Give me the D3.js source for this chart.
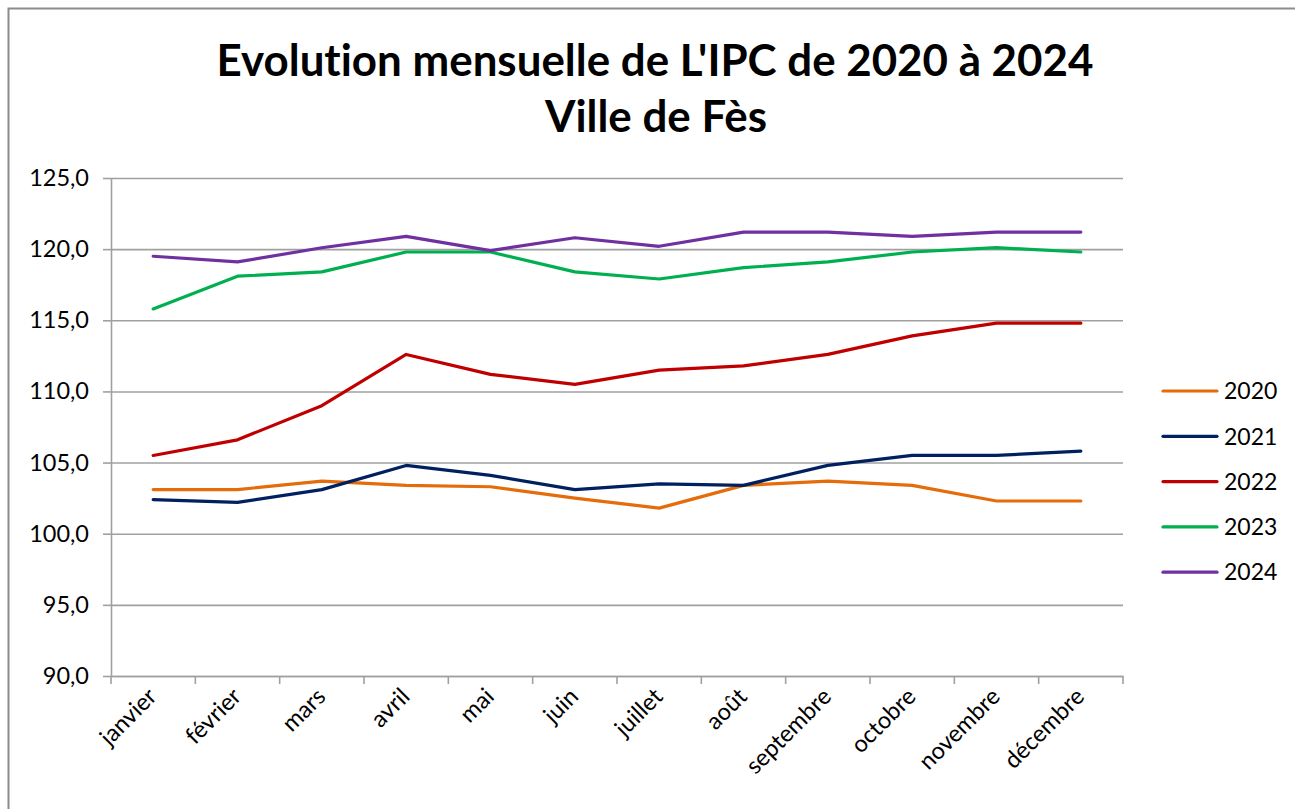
<!DOCTYPE html>
<html>
<head>
<meta charset="utf-8">
<script src="https://cdn.jsdelivr.net/npm/d3@7"></script>
<style>
  html, body { margin: 0; padding: 0; background: #ffffff; overflow: hidden; }
  svg { display: block; font-variant-ligatures: none; }
  text { font-variant-ligatures: none; }
</style>
</head>
<body>
<svg id="chart" width="1295" height="809"></svg>
<script>
const titleLines = ["Evolution mensuelle de L'IPC de 2020 à 2024", "Ville de Fès"];
const months = ["janvier","février","mars","avril","mai","juin","juillet","août","septembre","octobre","novembre","décembre"];
const seriesNames = ["2020","2021","2022","2023","2024"];
const v2020 = [103.1,103.1,103.7,103.4,103.3,102.5,101.8,103.4,103.7,103.4,102.3,102.3];
const v2021 = [102.4,102.2,103.1,104.8,104.1,103.1,103.5,103.4,104.8,105.5,105.5,105.8];
const v2022 = [105.5,106.6,109.0,112.6,111.2,110.5,111.5,111.8,112.6,113.9,114.8,114.8];
const v2023 = [115.8,118.1,118.4,119.8,119.8,118.4,117.9,118.7,119.1,119.8,120.1,119.8];
const v2024 = [119.5,119.1,120.1,120.9,119.9,120.8,120.2,121.2,121.2,120.9,121.2,121.2];
const yTicks = [90,95,100,105,110,115,120,125];
const seriesColors = ["#E46C0A","#002060","#C00000","#00B050","#7030A0"];

(function () {
const seriesValues = [v2020, v2021, v2022, v2023, v2024];
const series = seriesNames.map((n, i) => ({ name: n, color: seriesColors[i], values: seriesValues[i] }));

const svg = d3.select("#chart");
const FONT = "Lato, 'Open Sans', sans-serif";
const pLeft = 111, pRight = 1123, pTop = 178, pBottom = 676;

// chart border
svg.append("rect").attr("x", 8.5).attr("y", 8.5).attr("width", 1400).attr("height", 900)
  .attr("fill", "#fff").attr("stroke", "#8c8c8c").attr("stroke-width", 2);

// title
const title = svg.append("text").attr("text-anchor", "middle")
  .attr("font-family", FONT).attr("font-weight", "bold").attr("fill", "#000");
title.append("tspan").attr("x", 655).attr("y", 76).text(titleLines[0]);
title.append("tspan").attr("x", 656).attr("y", 132).text(titleLines[1]);
title.attr("font-size", 40);
const w0 = title.select("tspan").node().getComputedTextLength();
title.attr("font-size", (40 * 877 / w0).toFixed(2));

const x = d3.scaleBand().domain(months).range([pLeft, pRight]).padding(0);
const y = d3.scaleLinear().domain([90, 125]).range([pBottom, pTop]);
const fmt = d => d.toFixed(1).replace(".", ",");

// gridlines
svg.append("g").attr("transform", `translate(${pLeft},0)`)
  .call(d3.axisLeft(y).tickValues(yTicks).tickSize(-(pRight - pLeft)).tickFormat(""))
  .call(g => g.select(".domain").remove())
  .call(g => g.selectAll("line").attr("stroke", "#a0a0a0").attr("stroke-width", 1.6));

// y axis
svg.append("g").attr("transform", `translate(${pLeft},0)`)
  .call(d3.axisLeft(y).tickValues(yTicks).tickSizeInner(8).tickSizeOuter(0).tickPadding(14).tickFormat(fmt))
  .call(g => g.select(".domain").attr("stroke", "#a0a0a0").attr("stroke-width", 1.6))
  .call(g => g.selectAll("line").attr("stroke", "#a0a0a0").attr("stroke-width", 1.6))
  .call(g => g.selectAll("text").attr("font-family", FONT).attr("font-size", 23.5).attr("fill", "#000"));

// x axis
const xAxis = svg.append("g").attr("transform", `translate(0,${pBottom})`)
  .call(d3.axisBottom(x).tickSize(0).tickSizeOuter(0).tickFormat(""))
  .call(g => g.select(".domain").attr("stroke", "#a0a0a0").attr("stroke-width", 1.6));
const bounds = months.map(m => x(m)).concat([x(months[months.length - 1]) + x.bandwidth()]);
xAxis.selectAll("line.bt").data(bounds).join("line").attr("class", "bt")
  .attr("x1", d => d).attr("x2", d => d).attr("y1", 0).attr("y2", 8)
  .attr("stroke", "#a0a0a0").attr("stroke-width", 1.6);
xAxis.selectAll("text.ml").data(months).join("text").attr("class", "ml")
  .attr("text-anchor", "end")
  .attr("transform", d => `translate(${x(d) + x.bandwidth() / 2 + 5},${22}) rotate(-45)`)
  .attr("font-family", FONT).attr("font-size", 23.5).attr("fill", "#000")
  .text(d => d);

// lines
const line = d3.line()
  .x((d, i) => x(months[i]) + x.bandwidth() / 2)
  .y(d => y(d));
svg.append("g").selectAll("path").data(series).join("path")
  .attr("d", d => line(d.values))
  .attr("fill", "none").attr("stroke", d => d.color).attr("stroke-width", 3.2)
  .attr("stroke-linejoin", "round").attr("stroke-linecap", "round");

// legend
const lg = svg.append("g").selectAll("g").data(series).join("g")
  .attr("transform", (d, i) => `translate(1163,${391 + i * 45.3})`);
lg.append("line").attr("x1", 0).attr("x2", 54).attr("y1", 0).attr("y2", 0)
  .attr("stroke", d => d.color).attr("stroke-width", 3.2).attr("stroke-linecap", "round");
lg.append("text").attr("x", 61).attr("y", 0).attr("dy", "0.36em")
  .attr("font-family", FONT).attr("font-size", 23).attr("fill", "#000")
  .text(d => d.name);
})();
</script>
</body>
</html>
